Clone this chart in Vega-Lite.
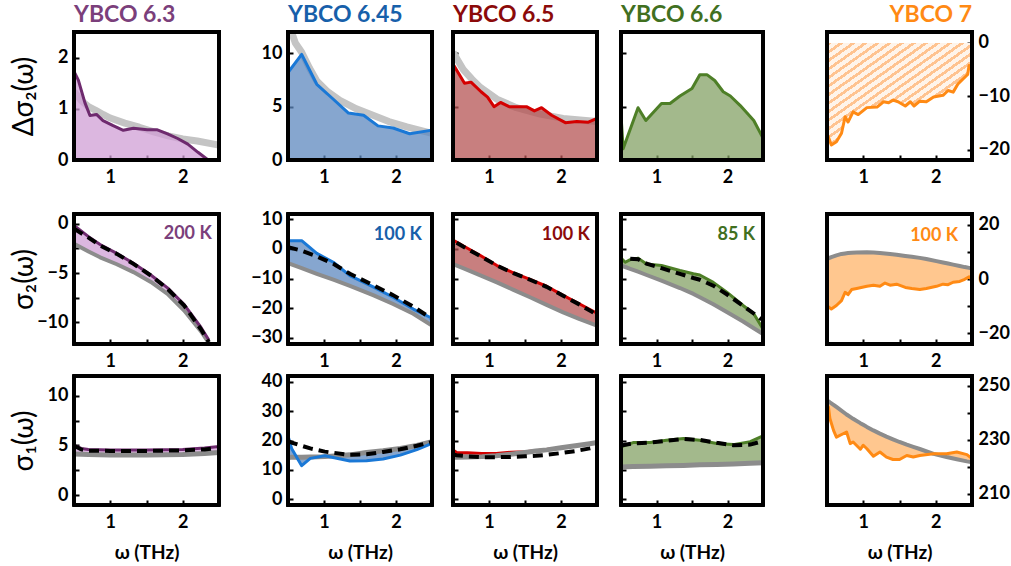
{
"$schema": "https://vega.github.io/schema/vega-lite/v6.json",
"padding": {"left": 10, "top": 3, "right": 0, "bottom": 0},
"columns": 5, "spacing": 0, "bounds": "flush",
"datasets": {
"r1c1": [{"x":0.5,"d":1.73},{"x":0.56,"d":1.56},{"x":0.65,"d":1.12},{"x":0.72,"d":0.87},{"x":0.81,"d":0.89},{"x":0.9,"d":0.77},{"x":1.04,"d":0.67},{"x":1.18,"d":0.58},{"x":1.32,"d":0.62},{"x":1.51,"d":0.59},{"x":1.65,"d":0.59},{"x":1.79,"d":0.51},{"x":1.93,"d":0.42},{"x":2.07,"d":0.31},{"x":2.21,"d":0.15},{"x":2.35,"d":0},
 {"x":0.5,"f":1.34},{"x":0.6,"f":1.16},{"x":0.7,"f":1.04},{"x":0.8,"f":0.97},{"x":0.9,"f":0.89},{"x":1.0,"f":0.82},{"x":1.2,"f":0.72},{"x":1.4,"f":0.64},{"x":1.6,"f":0.55},{"x":1.8,"f":0.47},{"x":2.0,"f":0.41},{"x":2.2,"f":0.37},{"x":2.5,"f":0.29}],
"r1c2": [{"x":0.5,"d":8.2},{"x":0.69,"d":9.9},{"x":0.9,"d":7.1},{"x":1.08,"d":6.0},{"x":1.34,"d":4.4},{"x":1.55,"d":4.2},{"x":1.75,"d":3.2},{"x":1.96,"d":3.0},{"x":2.19,"d":2.46},{"x":2.5,"d":2.8},
 {"x":0.5,"f":13.0},{"x":0.6,"f":11.0},{"x":0.69,"f":10.1},{"x":0.8,"f":8.6},{"x":0.9,"f":7.4},{"x":1.05,"f":6.4},{"x":1.22,"f":5.6},{"x":1.45,"f":4.8},{"x":1.68,"f":4.2},{"x":1.9,"f":3.6},{"x":2.15,"f":3.1},{"x":2.5,"f":2.5}],
"r1c3": [{"x":0.5,"d":9.0},{"x":0.66,"d":7.2},{"x":0.75,"d":7.3},{"x":0.89,"d":6.4},{"x":0.98,"d":5.9},{"x":1.07,"d":5.0},{"x":1.16,"d":5.4},{"x":1.28,"d":5.0},{"x":1.42,"d":5.0},{"x":1.52,"d":5.0},{"x":1.63,"d":4.6},{"x":1.73,"d":4.9},{"x":1.87,"d":4.2},{"x":2.06,"d":3.5},{"x":2.22,"d":3.6},{"x":2.38,"d":3.55},{"x":2.5,"d":3.9},
 {"x":0.5,"f":10.1},{"x":0.64,"f":8.5},{"x":0.76,"f":7.6},{"x":0.88,"f":6.8},{"x":1.11,"f":5.7},{"x":1.38,"f":4.9},{"x":1.71,"f":4.3},{"x":2.03,"f":3.9},{"x":2.5,"f":3.6}],
"r1c4": [{"x":0.5,"d":4.2},{"x":0.53,"d":1.06},{"x":0.74,"d":4.9},{"x":0.85,"d":3.7},{"x":1.07,"d":5.3},{"x":1.19,"d":5.3},{"x":1.33,"d":6.0},{"x":1.5,"d":6.7},{"x":1.61,"d":8.0},{"x":1.71,"d":8.0},{"x":1.82,"d":7.45},{"x":1.94,"d":6.4},{"x":2.04,"d":6.0},{"x":2.18,"d":5.1},{"x":2.37,"d":3.7},{"x":2.5,"d":2.06}],
"r1c5": [{"x":0.5,"d":-16.9},{"x":0.56,"d":-19.1},{"x":0.63,"d":-18.5},{"x":0.7,"d":-16.9},{"x":0.75,"d":-13.8},{"x":0.79,"d":-14.8},{"x":0.86,"d":-12.9},{"x":0.93,"d":-13.4},{"x":1.05,"d":-12.1},{"x":1.19,"d":-12.0},{"x":1.28,"d":-11.0},{"x":1.35,"d":-11.2},{"x":1.41,"d":-10.7},{"x":1.48,"d":-11.0},{"x":1.58,"d":-11.8},{"x":1.65,"d":-11.0},{"x":1.7,"d":-11.8},{"x":1.78,"d":-10.9},{"x":1.87,"d":-11.0},{"x":1.97,"d":-10.1},{"x":2.1,"d":-9.8},{"x":2.17,"d":-8.9},{"x":2.24,"d":-9.2},{"x":2.31,"d":-7.6},{"x":2.38,"d":-6.7},{"x":2.44,"d":-5.9},{"x":2.46,"d":-4.2},{"x":2.5,"d":-5.0}],
"r2c1": [{"x":0.5,"d":-0.15,"f":-2.03,"m":-0.5},{"x":0.7,"d":-1.3,"f":-2.8,"m":-1.4},{"x":0.86,"d":-2.1,"f":-3.4,"m":-2.2},{"x":1.09,"d":-3.0,"f":-4.1,"m":-3.05},{"x":1.32,"d":-4.0,"f":-4.9,"m":-4.06},{"x":1.56,"d":-5.2,"f":-5.9,"m":-5.25},{"x":1.79,"d":-6.5,"f":-7.1,"m":-6.6},{"x":2.02,"d":-8.2,"f":-8.8,"m":-8.3},{"x":2.25,"d":-10.5,"f":-10.9,"m":-10.7},{"x":2.36,"d":-11.8,"f":-12.1,"m":-12.0}],
"r2c2": [{"x":0.5,"d":2.8,"f":-4.8,"m":0.6},{"x":0.69,"d":2.8,"f":-6.5,"m":-0.6},{"x":0.9,"d":-1.5,"f":-8.4,"m":-2.5},{"x":1.13,"d":-4.5,"f":-10.4,"m":-5.0},{"x":1.36,"d":-9.0,"f":-12.5,"m":-8.4},{"x":1.69,"d":-12.9,"f":-15.7,"m":-12.3},{"x":1.96,"d":-16.3,"f":-18.6,"m":-15.6},{"x":2.24,"d":-20.3,"f":-21.9,"m":-19.5},{"x":2.5,"d":-23.4,"f":-25.9,"m":-23.6}],
"r2c3": [{"x":0.5,"d":3.0,"f":-5.1},{"x":0.55,"m":2.1},{"x":0.64,"d":1.1,"f":-6.5,"m":0.8},{"x":0.88,"d":-2.2,"f":-8.9,"m":-2.4},{"x":1.11,"d":-5.6,"f":-11.3,"m":-5.6},{"x":1.34,"d":-8.1,"f":-13.8,"m":-8.2},{"x":1.57,"d":-10.3,"f":-16.3,"m":-10.4},{"x":1.8,"d":-12.6,"f":-18.9,"m":-12.8},{"x":2.03,"d":-15.7,"f":-21.4,"m":-15.8},{"x":2.26,"d":-18.6,"f":-23.7,"m":-18.8},{"x":2.45,"m":-21.5},{"x":2.5,"d":-21.7,"f":-25.9}],
"r2c4": [{"x":0.5,"d":-3.1,"f":-5.6},{"x":0.56,"d":-4.5,"f":-6.1},{"x":0.63,"d":-3.6,"f":-6.7,"m":-3.3},{"x":0.74,"d":-3.1,"f":-7.7,"m":-3.5},{"x":0.86,"d":-5.1,"f":-8.8,"m":-5.0},{"x":1.07,"d":-5.6,"f":-10.7,"m":-6.5},{"x":1.33,"d":-7.3,"f":-13.2,"m":-8.4},{"x":1.52,"d":-8.4,"f":-15.2,"m":-9.8},{"x":1.61,"d":-8.8,"f":-16.3,"m":-10.4},{"x":1.8,"d":-11.3,"f":-18.7,"m":-12.4},{"x":1.99,"d":-14.6,"f":-21.3,"m":-15.3},{"x":2.22,"d":-19.1,"f":-24.5,"m":-19.2},{"x":2.37,"d":-21.9,"f":-26.8,"m":-21.8},{"x":2.48,"m":-23.8},{"x":2.5,"d":-27.0,"f":-28.7}],
"r2c5": [{"x":0.5,"d":-9.8,"f":7.4},{"x":0.56,"d":-11.1,"f":8.1},{"x":0.63,"d":-9.8,"f":8.7},{"x":0.7,"d":-8.0,"f":9.25},{"x":0.75,"d":-4.9,"f":9.45},{"x":0.79,"d":-5.8,"f":9.6},{"x":0.84,"d":-3.9,"f":9.7},{"x":0.91,"d":-3.5,"f":9.8},{"x":1.05,"d":-2.7,"f":9.9},{"x":1.14,"d":-2.3,"f":9.8},{"x":1.23,"d":-2.7,"f":9.6},{"x":1.3,"d":-1.5,"f":9.4},{"x":1.37,"d":-2.3,"f":9.2},{"x":1.46,"d":-1.9,"f":8.95},{"x":1.58,"d":-3.1,"f":8.5},{"x":1.67,"d":-3.5,"f":8.2},{"x":1.78,"d":-3.9,"f":7.8},{"x":1.87,"d":-3.5,"f":7.4},{"x":2.01,"d":-2.7,"f":6.6},{"x":2.1,"d":-1.9,"f":6.1},{"x":2.17,"d":-2.1,"f":5.7},{"x":2.24,"d":-1.2,"f":5.3},{"x":2.33,"d":-0.9,"f":4.8},{"x":2.4,"d":-0.1,"f":4.4},{"x":2.46,"d":0.8,"f":4.1},{"x":2.5,"d":-0.2,"f":3.9}],
"r3c1": [{"x":0.5,"d":5.0,"f":4.13,"m":4.97},{"x":0.6,"d":4.7,"f":4.12,"m":4.6},{"x":0.7,"d":4.6,"f":4.1,"m":4.47},{"x":1.0,"d":4.55,"f":4.05,"m":4.45},{"x":1.5,"d":4.55,"f":4.05,"m":4.45},{"x":2.0,"d":4.6,"f":4.1,"m":4.5},{"x":2.3,"d":4.75,"f":4.2,"m":4.6},{"x":2.5,"d":4.9,"f":4.3,"m":4.75}],
"r3c2": [{"x":0.5,"d":21.6,"f":14.2,"m":19.8},{"x":0.55,"d":17.3,"f":14.25,"m":19.3},{"x":0.69,"d":11.4,"f":14.3,"m":18.2},{"x":0.81,"d":13.9,"f":14.4,"m":17.3},{"x":1.01,"d":14.8,"f":14.5,"m":16.2},{"x":1.36,"d":13.0,"f":15.1,"m":15.1},{"x":1.59,"d":13.1,"f":15.9,"m":15.3},{"x":1.82,"d":13.7,"f":16.5,"m":16.1},{"x":2.06,"d":15.0,"f":17.3,"m":17.0},{"x":2.29,"d":16.9,"f":18.3,"m":18.2},{"x":2.5,"d":19.0,"f":19.6,"m":19.5}],
"r3c3": [{"x":0.5,"d":16.8,"f":14.3,"m":15.2},{"x":0.55,"d":15.9,"f":14.3,"m":15.0},{"x":0.7,"d":15.8,"f":14.35,"m":14.6},{"x":0.9,"d":15.6,"f":14.5,"m":14.3},{"x":1.1,"d":15.6,"f":14.8,"m":14.3},{"x":1.3,"d":16.0,"f":15.3,"m":14.4},{"x":1.5,"d":16.2,"f":15.9,"m":14.6},{"x":1.65,"d":16.5,"f":16.4,"m":14.8},{"x":1.8,"d":16.9,"f":16.8,"m":15.1},{"x":2.0,"d":17.5,"f":17.5,"m":15.7},{"x":2.2,"d":18.2,"f":18.2,"m":16.4},{"x":2.4,"d":18.9,"f":18.9,"m":17.3},{"x":2.5,"d":19.3,"f":19.3,"m":17.9}],
"r3c4": [{"x":0.5,"d":17.8,"f":11.0,"m":18.3},{"x":0.67,"d":19.3,"f":11.1,"m":19.0},{"x":0.91,"d":19.3,"f":11.2,"m":19.3},{"x":1.14,"d":20.1,"f":11.4,"m":19.9},{"x":1.38,"d":20.7,"f":11.5,"m":20.5},{"x":1.61,"d":20.1,"f":11.7,"m":20.2},{"x":1.85,"d":19.0,"f":11.8,"m":19.2},{"x":2.08,"d":18.6,"f":12.0,"m":18.4},{"x":2.32,"d":19.6,"f":12.2,"m":18.6},{"x":2.5,"d":21.6,"f":12.4,"m":19.8}],
"r3c5": [{"x":0.5,"d":243.0,"f":244.7},{"x":0.52,"d":242.2,"f":244.3},{"x":0.54,"d":237.9,"f":243.9},{"x":0.59,"d":233.5,"f":243.0},{"x":0.63,"d":231.0,"f":242.2},{"x":0.77,"d":232.9,"f":239.4},{"x":0.82,"d":228.6,"f":238.5},{"x":0.86,"d":229.2,"f":237.8},{"x":0.96,"d":226.5,"f":236.2},{"x":1.0,"d":228.0,"f":235.6},{"x":1.05,"d":226.7,"f":234.8},{"x":1.14,"d":223.9,"f":233.5},{"x":1.23,"d":225.5,"f":232.3},{"x":1.32,"d":223.6,"f":231.2},{"x":1.41,"d":222.7,"f":230.2},{"x":1.5,"d":222.7,"f":229.2},{"x":1.6,"d":224.2,"f":228.2},{"x":1.69,"d":223.6,"f":227.4},{"x":1.78,"d":224.2,"f":226.6},{"x":1.97,"d":224.8,"f":224.8},{"x":2.15,"d":224.8,"f":223.6},{"x":2.29,"d":225.5,"f":222.8},{"x":2.43,"d":224.5,"f":222.0},{"x":2.5,"d":223.0,"f":221.7}]
},
"concat": [
{"width":214,"height":128,"title":{"text":"YBCO 6.3","color":"#7b3f7b"},"data":{"name":"r1c1"},
 "encoding":{"x":{"field":"x","type":"quantitative","scale":{"domain":[0.5,2.5],"range":[0,145],"nice":false},"axis":{"values":[1,1.5,2],"labelExpr":"datum.value % 1 == 0 ? format(datum.value, 'd') : ''","title":null}}},
 "layer":[
  {"transform":[{"filter":"isValid(datum.f)"}],"mark":{"type":"line","color":"#c4c4c4","strokeWidth":7,"clip":true,"strokeJoin":"round"},"encoding":{"y":{"field":"f","type":"quantitative","scale":{"domain":[0,2.5],"nice":false},"axis":{"values":[0,0.5,1,1.5,2],"labelExpr":"datum.value % 1 == 0 ? format(datum.value, 'd') : ''","title":"Δσ₂(ω)","titleFontSize":28,"titleFontWeight":"normal","titlePadding":6,"minExtent":30,"maxExtent":30}}}},
  {"transform":[{"filter":"isValid(datum.d)"}],"mark":{"type":"area","color":"#d09fd6","opacity":0.75},"encoding":{"y":{"field":"d","type":"quantitative"},"y2":{"datum":0}}},
  {"transform":[{"filter":"isValid(datum.d)"}],"mark":{"type":"line","color":"#6e2a6e","strokeWidth":3,"clip":true,"strokeJoin":"round"},"encoding":{"y":{"field":"d","type":"quantitative"}}},
  {"mark":{"type":"rect","filled":false,"stroke":"black","strokeWidth":2.8},"encoding":{"x":{"datum":0.5},"x2":{"datum":2.5},"y":{"datum":0},"y2":{"datum":2.5}}}
 ]},
{"width":165,"height":128,"title":{"text":"YBCO 6.45","color":"#1760aa"},"data":{"name":"r1c2"},
 "encoding":{"x":{"field":"x","type":"quantitative","scale":{"domain":[0.5,2.5],"range":[0,144],"nice":false},"axis":{"values":[1,1.5,2],"labelExpr":"datum.value % 1 == 0 ? format(datum.value, 'd') : ''","title":null}}},
 "layer":[
  {"transform":[{"filter":"isValid(datum.f)"}],"mark":{"type":"line","color":"#c4c4c4","strokeWidth":7,"clip":true,"strokeJoin":"round"},"encoding":{"y":{"field":"f","type":"quantitative","scale":{"domain":[0,12],"nice":false},"axis":{"values":[0,2.5,5,7.5,10],"labelExpr":"datum.value % 5 == 0 ? format(datum.value, 'd') : ''","title":null}}}},
  {"transform":[{"filter":"isValid(datum.d)"}],"mark":{"type":"area","color":"#5e88bf","opacity":0.75},"encoding":{"y":{"field":"d","type":"quantitative"},"y2":{"datum":0}}},
  {"transform":[{"filter":"isValid(datum.d)"}],"mark":{"type":"line","color":"#1a78d6","strokeWidth":3,"clip":true,"strokeJoin":"round"},"encoding":{"y":{"field":"d","type":"quantitative"}}},
  {"mark":{"type":"rect","filled":false,"stroke":"black","strokeWidth":2.8},"encoding":{"x":{"datum":0.5},"x2":{"datum":2.5},"y":{"datum":0},"y2":{"datum":12}}}
 ]},
{"width":168,"height":128,"title":{"text":"YBCO 6.5","color":"#8b0a0a"},"data":{"name":"r1c3"},
 "encoding":{"x":{"field":"x","type":"quantitative","scale":{"domain":[0.5,2.5],"range":[0,144],"nice":false},"axis":{"values":[1,1.5,2],"labelExpr":"datum.value % 1 == 0 ? format(datum.value, 'd') : ''","title":null}}},
 "layer":[
  {"transform":[{"filter":"isValid(datum.f)"}],"mark":{"type":"line","color":"#c4c4c4","strokeWidth":7,"clip":true,"strokeJoin":"round"},"encoding":{"y":{"field":"f","type":"quantitative","scale":{"domain":[0,12],"nice":false},"axis":{"values":[0,2.5,5,7.5,10],"labels":false,"title":null}}}},
  {"transform":[{"filter":"isValid(datum.d)"}],"mark":{"type":"area","color":"#b65454","opacity":0.75},"encoding":{"y":{"field":"d","type":"quantitative"},"y2":{"datum":0}}},
  {"transform":[{"filter":"isValid(datum.d)"}],"mark":{"type":"line","color":"#d40000","strokeWidth":3,"clip":true,"strokeJoin":"round"},"encoding":{"y":{"field":"d","type":"quantitative"}}},
  {"mark":{"type":"rect","filled":false,"stroke":"black","strokeWidth":2.8},"encoding":{"x":{"datum":0.5},"x2":{"datum":2.5},"y":{"datum":0},"y2":{"datum":12}}}
 ]},
{"width":206,"height":128,"title":{"text":"YBCO 6.6","color":"#41701f"},"data":{"name":"r1c4"},
 "encoding":{"x":{"field":"x","type":"quantitative","scale":{"domain":[0.5,2.5],"range":[0,142],"nice":false},"axis":{"values":[1,1.5,2],"labelExpr":"datum.value % 1 == 0 ? format(datum.value, 'd') : ''","title":null}}},
 "layer":[
  {"mark":{"type":"area","color":"#84a266","opacity":0.75},"encoding":{"y":{"field":"d","type":"quantitative","scale":{"domain":[0,12],"nice":false},"axis":{"values":[0,2.5,5,7.5,10],"labels":false,"title":null}},"y2":{"datum":0}}},
  {"mark":{"type":"line","color":"#4e7f27","strokeWidth":3,"clip":true,"strokeJoin":"round"},"encoding":{"y":{"field":"d","type":"quantitative"}}},
  {"mark":{"type":"rect","filled":false,"stroke":"black","strokeWidth":2.8},"encoding":{"x":{"datum":0.5},"x2":{"datum":2.5},"y":{"datum":0},"y2":{"datum":12}}}
 ]},
{"width":145,"height":128,"title":{"text":"YBCO 7","color":"#ff8a14","anchor":"end"},"data":{"name":"r1c5"},
 "encoding":{"x":{"field":"x","type":"quantitative","scale":{"domain":[0.5,2.5],"range":[0,145],"nice":false},"axis":{"values":[1,1.5,2],"labelExpr":"datum.value % 1 == 0 ? format(datum.value, 'd') : ''","title":null}}},
 "layer":[
  {"mark":{"type":"area","fill":{"gradient":"linear","x1":0,"y1":0,"x2":1,"y2":1,"stops":[
   {"offset":0,"color":"#ffc390"},{"offset":0.0167,"color":"#ffc390"},{"offset":0.0167,"color":"#fff4ea"},{"offset":0.0417,"color":"#fff4ea"},
   {"offset":0.0417,"color":"#ffc390"},{"offset":0.0583,"color":"#ffc390"},{"offset":0.0583,"color":"#fff4ea"},{"offset":0.0833,"color":"#fff4ea"},
   {"offset":0.0833,"color":"#ffc390"},{"offset":0.1,"color":"#ffc390"},{"offset":0.1,"color":"#fff4ea"},{"offset":0.125,"color":"#fff4ea"},
   {"offset":0.125,"color":"#ffc390"},{"offset":0.1417,"color":"#ffc390"},{"offset":0.1417,"color":"#fff4ea"},{"offset":0.1667,"color":"#fff4ea"},
   {"offset":0.1667,"color":"#ffc390"},{"offset":0.1833,"color":"#ffc390"},{"offset":0.1833,"color":"#fff4ea"},{"offset":0.2083,"color":"#fff4ea"},
   {"offset":0.2083,"color":"#ffc390"},{"offset":0.225,"color":"#ffc390"},{"offset":0.225,"color":"#fff4ea"},{"offset":0.25,"color":"#fff4ea"},
   {"offset":0.25,"color":"#ffc390"},{"offset":0.2667,"color":"#ffc390"},{"offset":0.2667,"color":"#fff4ea"},{"offset":0.2917,"color":"#fff4ea"},
   {"offset":0.2917,"color":"#ffc390"},{"offset":0.3083,"color":"#ffc390"},{"offset":0.3083,"color":"#fff4ea"},{"offset":0.3333,"color":"#fff4ea"},
   {"offset":0.3333,"color":"#ffc390"},{"offset":0.35,"color":"#ffc390"},{"offset":0.35,"color":"#fff4ea"},{"offset":0.375,"color":"#fff4ea"},
   {"offset":0.375,"color":"#ffc390"},{"offset":0.3917,"color":"#ffc390"},{"offset":0.3917,"color":"#fff4ea"},{"offset":0.4167,"color":"#fff4ea"},
   {"offset":0.4167,"color":"#ffc390"},{"offset":0.4333,"color":"#ffc390"},{"offset":0.4333,"color":"#fff4ea"},{"offset":0.4583,"color":"#fff4ea"},
   {"offset":0.4583,"color":"#ffc390"},{"offset":0.475,"color":"#ffc390"},{"offset":0.475,"color":"#fff4ea"},{"offset":0.5,"color":"#fff4ea"},
   {"offset":0.5,"color":"#ffc390"},{"offset":0.5167,"color":"#ffc390"},{"offset":0.5167,"color":"#fff4ea"},{"offset":0.5417,"color":"#fff4ea"},
   {"offset":0.5417,"color":"#ffc390"},{"offset":0.5583,"color":"#ffc390"},{"offset":0.5583,"color":"#fff4ea"},{"offset":0.5833,"color":"#fff4ea"},
   {"offset":0.5833,"color":"#ffc390"},{"offset":0.6,"color":"#ffc390"},{"offset":0.6,"color":"#fff4ea"},{"offset":0.625,"color":"#fff4ea"},
   {"offset":0.625,"color":"#ffc390"},{"offset":0.6417,"color":"#ffc390"},{"offset":0.6417,"color":"#fff4ea"},{"offset":0.6667,"color":"#fff4ea"},
   {"offset":0.6667,"color":"#ffc390"},{"offset":0.6833,"color":"#ffc390"},{"offset":0.6833,"color":"#fff4ea"},{"offset":0.7083,"color":"#fff4ea"},
   {"offset":0.7083,"color":"#ffc390"},{"offset":0.725,"color":"#ffc390"},{"offset":0.725,"color":"#fff4ea"},{"offset":0.75,"color":"#fff4ea"},
   {"offset":0.75,"color":"#ffc390"},{"offset":0.7667,"color":"#ffc390"},{"offset":0.7667,"color":"#fff4ea"},{"offset":0.7917,"color":"#fff4ea"},
   {"offset":0.7917,"color":"#ffc390"},{"offset":0.8083,"color":"#ffc390"},{"offset":0.8083,"color":"#fff4ea"},{"offset":0.8333,"color":"#fff4ea"},
   {"offset":0.8333,"color":"#ffc390"},{"offset":0.85,"color":"#ffc390"},{"offset":0.85,"color":"#fff4ea"},{"offset":0.875,"color":"#fff4ea"},
   {"offset":0.875,"color":"#ffc390"},{"offset":0.8917,"color":"#ffc390"},{"offset":0.8917,"color":"#fff4ea"},{"offset":0.9167,"color":"#fff4ea"},
   {"offset":0.9167,"color":"#ffc390"},{"offset":0.9333,"color":"#ffc390"},{"offset":0.9333,"color":"#fff4ea"},{"offset":0.9583,"color":"#fff4ea"},
   {"offset":0.9583,"color":"#ffc390"},{"offset":0.975,"color":"#ffc390"},{"offset":0.975,"color":"#fff4ea"},{"offset":1,"color":"#fff4ea"}]}},
   "encoding":{"y":{"field":"d","type":"quantitative","scale":{"domain":[-21.9,2.05],"nice":false},"axis":{"orient":"right","values":[-20,-15,-10,-5,0],"labelExpr":"datum.value % 10 == 0 ? format(datum.value, 'd') : ''","title":null}},"y2":{"datum":0}}},
  {"mark":{"type":"line","color":"#ff8a14","strokeWidth":3,"clip":true,"strokeJoin":"round"},"encoding":{"y":{"field":"d","type":"quantitative"}}},
  {"mark":{"type":"rect","filled":false,"stroke":"black","strokeWidth":2.8},"encoding":{"x":{"datum":0.5},"x2":{"datum":2.5},"y":{"datum":-21.9},"y2":{"datum":2.05}}}
 ]},
{"width":214,"height":184,"data":{"name":"r2c1"},
 "encoding":{"x":{"field":"x","type":"quantitative","scale":{"domain":[0.5,2.5],"range":[0,145],"nice":false},"axis":{"values":[1,1.5,2],"labelExpr":"datum.value % 1 == 0 ? format(datum.value, 'd') : ''","title":null}}},
 "layer":[
  {"mark":{"type":"area","color":"#d09fd6","opacity":0.75},"encoding":{"y":{"field":"d","type":"quantitative","scale":{"domain":[-12.2,1],"range":[184,54],"nice":false},"axis":{"values":[-10,-7.5,-5,-2.5,0],"labelExpr":"datum.value % 5 == 0 ? format(datum.value, 'd') : ''","title":"σ₂(ω)","titleFontSize":28,"titleFontWeight":"normal","titlePadding":6,"minExtent":30,"maxExtent":30}},"y2":{"field":"f"}}},
  {"mark":{"type":"line","color":"#8c8c8c","strokeWidth":4,"clip":true,"strokeJoin":"round"},"encoding":{"y":{"field":"f","type":"quantitative"}}},
  {"mark":{"type":"line","color":"#6e2a6e","strokeWidth":3,"clip":true,"strokeJoin":"round"},"encoding":{"y":{"field":"d","type":"quantitative"}}},
  {"mark":{"type":"line","color":"black","strokeWidth":4,"strokeDash":[10,6],"clip":true},"encoding":{"y":{"field":"m","type":"quantitative"}}},
  {"mark":{"type":"text","align":"right","baseline":"middle","fontSize":18,"fontWeight":"bold","color":"#7b3f7b"},"encoding":{"x":{"datum":2.4},"y":{"datum":-1},"text":{"value":"200 K"},"opacity":{"condition":{"test":"datum.x == 0.5","value":1},"value":0}}},
  {"mark":{"type":"rect","filled":false,"stroke":"black","strokeWidth":2.8},"encoding":{"x":{"datum":0.5},"x2":{"datum":2.5},"y":{"datum":-12.2},"y2":{"datum":1}}}
 ]},
{"width":165,"height":184,"data":{"name":"r2c2"},
 "encoding":{"x":{"field":"x","type":"quantitative","scale":{"domain":[0.5,2.5],"range":[0,144],"nice":false},"axis":{"values":[1,1.5,2],"labelExpr":"datum.value % 1 == 0 ? format(datum.value, 'd') : ''","title":null}}},
 "layer":[
  {"mark":{"type":"area","color":"#5e88bf","opacity":0.75},"encoding":{"y":{"field":"d","type":"quantitative","scale":{"domain":[-32.1,11.8],"range":[184,54],"nice":false},"axis":{"values":[-30,-25,-20,-15,-10,-5,0,5,10],"labelExpr":"datum.value % 10 == 0 ? format(datum.value, 'd') : ''","title":null}},"y2":{"field":"f"}}},
  {"mark":{"type":"line","color":"#8c8c8c","strokeWidth":4,"clip":true,"strokeJoin":"round"},"encoding":{"y":{"field":"f","type":"quantitative"}}},
  {"mark":{"type":"line","color":"#1a78d6","strokeWidth":3,"clip":true,"strokeJoin":"round"},"encoding":{"y":{"field":"d","type":"quantitative"}}},
  {"mark":{"type":"line","color":"black","strokeWidth":4,"strokeDash":[10,6],"clip":true},"encoding":{"y":{"field":"m","type":"quantitative"}}},
  {"mark":{"type":"text","align":"right","baseline":"middle","fontSize":18,"fontWeight":"bold","color":"#1760aa"},"encoding":{"x":{"datum":2.36},"y":{"datum":4.7},"text":{"value":"100 K"},"opacity":{"condition":{"test":"datum.x == 0.5","value":1},"value":0}}},
  {"mark":{"type":"rect","filled":false,"stroke":"black","strokeWidth":2.8},"encoding":{"x":{"datum":0.5},"x2":{"datum":2.5},"y":{"datum":-32.1},"y2":{"datum":11.8}}}
 ]},
{"width":168,"height":184,"data":{"name":"r2c3"},
 "encoding":{"x":{"field":"x","type":"quantitative","scale":{"domain":[0.5,2.5],"range":[0,144],"nice":false},"axis":{"values":[1,1.5,2],"labelExpr":"datum.value % 1 == 0 ? format(datum.value, 'd') : ''","title":null}}},
 "layer":[
  {"transform":[{"filter":"isValid(datum.d) && isValid(datum.f)"}],"mark":{"type":"area","color":"#b65454","opacity":0.75},"encoding":{"y":{"field":"d","type":"quantitative","scale":{"domain":[-32.1,11.8],"range":[184,54],"nice":false},"axis":{"values":[-30,-25,-20,-15,-10,-5,0,5,10],"labels":false,"title":null}},"y2":{"field":"f"}}},
  {"transform":[{"filter":"isValid(datum.f)"}],"mark":{"type":"line","color":"#8c8c8c","strokeWidth":4,"clip":true,"strokeJoin":"round"},"encoding":{"y":{"field":"f","type":"quantitative"}}},
  {"transform":[{"filter":"isValid(datum.d)"}],"mark":{"type":"line","color":"#d40000","strokeWidth":3,"clip":true,"strokeJoin":"round"},"encoding":{"y":{"field":"d","type":"quantitative"}}},
  {"transform":[{"filter":"isValid(datum.m)"}],"mark":{"type":"line","color":"black","strokeWidth":4,"strokeDash":[10,6],"clip":true},"encoding":{"y":{"field":"m","type":"quantitative"}}},
  {"mark":{"type":"text","align":"right","baseline":"middle","fontSize":18,"fontWeight":"bold","color":"#8b0a0a"},"encoding":{"x":{"datum":2.4},"y":{"datum":4.7},"text":{"value":"100 K"},"opacity":{"condition":{"test":"datum.x == 0.5","value":1},"value":0}}},
  {"mark":{"type":"rect","filled":false,"stroke":"black","strokeWidth":2.8},"encoding":{"x":{"datum":0.5},"x2":{"datum":2.5},"y":{"datum":-32.1},"y2":{"datum":11.8}}}
 ]},
{"width":206,"height":184,"data":{"name":"r2c4"},
 "encoding":{"x":{"field":"x","type":"quantitative","scale":{"domain":[0.5,2.5],"range":[0,142],"nice":false},"axis":{"values":[1,1.5,2],"labelExpr":"datum.value % 1 == 0 ? format(datum.value, 'd') : ''","title":null}}},
 "layer":[
  {"transform":[{"filter":"isValid(datum.d) && isValid(datum.f)"}],"mark":{"type":"area","color":"#84a266","opacity":0.75},"encoding":{"y":{"field":"d","type":"quantitative","scale":{"domain":[-32.1,11.8],"range":[184,54],"nice":false},"axis":{"values":[-30,-25,-20,-15,-10,-5,0,5,10],"labels":false,"title":null}},"y2":{"field":"f"}}},
  {"transform":[{"filter":"isValid(datum.f)"}],"mark":{"type":"line","color":"#8c8c8c","strokeWidth":4,"clip":true,"strokeJoin":"round"},"encoding":{"y":{"field":"f","type":"quantitative"}}},
  {"transform":[{"filter":"isValid(datum.d)"}],"mark":{"type":"line","color":"#4e7f27","strokeWidth":3,"clip":true,"strokeJoin":"round"},"encoding":{"y":{"field":"d","type":"quantitative"}}},
  {"transform":[{"filter":"isValid(datum.m)"}],"mark":{"type":"line","color":"black","strokeWidth":4,"strokeDash":[10,6],"clip":true},"encoding":{"y":{"field":"m","type":"quantitative"}}},
  {"mark":{"type":"text","align":"right","baseline":"middle","fontSize":18,"fontWeight":"bold","color":"#41701f"},"encoding":{"x":{"datum":2.39},"y":{"datum":4.7},"text":{"value":"85 K"},"opacity":{"condition":{"test":"datum.x == 0.5","value":1},"value":0}}},
  {"mark":{"type":"rect","filled":false,"stroke":"black","strokeWidth":2.8},"encoding":{"x":{"datum":0.5},"x2":{"datum":2.5},"y":{"datum":-32.1},"y2":{"datum":11.8}}}
 ]},
{"width":145,"height":184,"data":{"name":"r2c5"},
 "encoding":{"x":{"field":"x","type":"quantitative","scale":{"domain":[0.5,2.5],"range":[0,145],"nice":false},"axis":{"values":[1,1.5,2],"labelExpr":"datum.value % 1 == 0 ? format(datum.value, 'd') : ''","title":null}}},
 "layer":[
  {"mark":{"type":"area","color":"#ffb46a","opacity":0.75},"encoding":{"y":{"field":"d","type":"quantitative","scale":{"domain":[-24,24],"range":[184,54],"nice":false},"axis":{"orient":"right","values":[-20,-10,0,10,20],"labelExpr":"datum.value % 20 == 0 ? format(datum.value, 'd') : ''","title":null}},"y2":{"field":"f"}}},
  {"mark":{"type":"line","color":"#8c8c8c","strokeWidth":4,"clip":true,"strokeJoin":"round"},"encoding":{"y":{"field":"f","type":"quantitative"}}},
  {"mark":{"type":"line","color":"#ff8a14","strokeWidth":3,"clip":true,"strokeJoin":"round"},"encoding":{"y":{"field":"d","type":"quantitative"}}},
  {"mark":{"type":"text","align":"right","baseline":"middle","fontSize":18,"fontWeight":"bold","color":"#ff8a14"},"encoding":{"x":{"datum":2.31},"y":{"datum":16},"text":{"value":"100 K"},"opacity":{"condition":{"test":"datum.x == 0.5","value":1},"value":0}}},
  {"mark":{"type":"rect","filled":false,"stroke":"black","strokeWidth":2.8},"encoding":{"x":{"datum":0.5},"x2":{"datum":2.5},"y":{"datum":-24},"y2":{"datum":24}}}
 ]},
{"width":214,"height":161,"data":{"name":"r3c1"},
 "encoding":{"x":{"field":"x","type":"quantitative","scale":{"domain":[0.5,2.5],"range":[0,145],"nice":false},"axis":{"values":[1,1.5,2],"labelExpr":"datum.value % 1 == 0 ? format(datum.value, 'd') : ''","title":"ω (THz)"}}},
 "layer":[
  {"mark":{"type":"area","color":"#d09fd6","opacity":0.75},"encoding":{"y":{"field":"d","type":"quantitative","scale":{"domain":[-1,12],"range":[161,32],"nice":false},"axis":{"values":[0,2.5,5,7.5,10],"labelExpr":"datum.value % 5 == 0 ? format(datum.value, 'd') : ''","title":"σ₁(ω)","titleFontSize":28,"titleFontWeight":"normal","titlePadding":6,"minExtent":30,"maxExtent":30}},"y2":{"field":"f"}}},
  {"mark":{"type":"line","color":"#8c8c8c","strokeWidth":5,"clip":true,"strokeJoin":"round"},"encoding":{"y":{"field":"f","type":"quantitative"}}},
  {"mark":{"type":"line","color":"#6e2a6e","strokeWidth":3,"clip":true,"strokeJoin":"round"},"encoding":{"y":{"field":"d","type":"quantitative"}}},
  {"mark":{"type":"line","color":"black","strokeWidth":4,"strokeDash":[10,6],"clip":true},"encoding":{"y":{"field":"m","type":"quantitative"}}},
  {"mark":{"type":"rect","filled":false,"stroke":"black","strokeWidth":2.8},"encoding":{"x":{"datum":0.5},"x2":{"datum":2.5},"y":{"datum":-1},"y2":{"datum":12}}}
 ]},
{"width":165,"height":161,"data":{"name":"r3c2"},
 "encoding":{"x":{"field":"x","type":"quantitative","scale":{"domain":[0.5,2.5],"range":[0,144],"nice":false},"axis":{"values":[1,1.5,2],"labelExpr":"datum.value % 1 == 0 ? format(datum.value, 'd') : ''","title":"ω (THz)"}}},
 "layer":[
  {"mark":{"type":"area","color":"#5e88bf","opacity":0.75},"encoding":{"y":{"field":"d","type":"quantitative","scale":{"domain":[-2,42],"range":[161,32],"nice":false},"axis":{"values":[0,5,10,15,20,25,30,35,40],"labelExpr":"datum.value % 10 == 0 ? format(datum.value, 'd') : ''","title":null}},"y2":{"field":"f"}}},
  {"mark":{"type":"line","color":"#8c8c8c","strokeWidth":5,"clip":true,"strokeJoin":"round"},"encoding":{"y":{"field":"f","type":"quantitative"}}},
  {"mark":{"type":"line","color":"#1a78d6","strokeWidth":3,"clip":true,"strokeJoin":"round"},"encoding":{"y":{"field":"d","type":"quantitative"}}},
  {"mark":{"type":"line","color":"black","strokeWidth":4,"strokeDash":[10,6],"clip":true},"encoding":{"y":{"field":"m","type":"quantitative"}}},
  {"mark":{"type":"rect","filled":false,"stroke":"black","strokeWidth":2.8},"encoding":{"x":{"datum":0.5},"x2":{"datum":2.5},"y":{"datum":-2},"y2":{"datum":42}}}
 ]},
{"width":168,"height":161,"data":{"name":"r3c3"},
 "encoding":{"x":{"field":"x","type":"quantitative","scale":{"domain":[0.5,2.5],"range":[0,144],"nice":false},"axis":{"values":[1,1.5,2],"labelExpr":"datum.value % 1 == 0 ? format(datum.value, 'd') : ''","title":"ω (THz)"}}},
 "layer":[
  {"mark":{"type":"area","color":"#b65454","opacity":0.75},"encoding":{"y":{"field":"d","type":"quantitative","scale":{"domain":[-2,42],"range":[161,32],"nice":false},"axis":{"values":[0,5,10,15,20,25,30,35,40],"labels":false,"title":null}},"y2":{"field":"f"}}},
  {"mark":{"type":"line","color":"#d40000","strokeWidth":3,"clip":true,"strokeJoin":"round"},"encoding":{"y":{"field":"d","type":"quantitative"}}},
  {"mark":{"type":"line","color":"#8c8c8c","strokeWidth":5,"clip":true,"strokeJoin":"round"},"encoding":{"y":{"field":"f","type":"quantitative"}}},
  {"mark":{"type":"line","color":"black","strokeWidth":4,"strokeDash":[10,6],"clip":true},"encoding":{"y":{"field":"m","type":"quantitative"}}},
  {"mark":{"type":"rect","filled":false,"stroke":"black","strokeWidth":2.8},"encoding":{"x":{"datum":0.5},"x2":{"datum":2.5},"y":{"datum":-2},"y2":{"datum":42}}}
 ]},
{"width":206,"height":161,"data":{"name":"r3c4"},
 "encoding":{"x":{"field":"x","type":"quantitative","scale":{"domain":[0.5,2.5],"range":[0,142],"nice":false},"axis":{"values":[1,1.5,2],"labelExpr":"datum.value % 1 == 0 ? format(datum.value, 'd') : ''","title":"ω (THz)"}}},
 "layer":[
  {"mark":{"type":"area","color":"#84a266","opacity":0.75},"encoding":{"y":{"field":"d","type":"quantitative","scale":{"domain":[-2,42],"range":[161,32],"nice":false},"axis":{"values":[0,5,10,15,20,25,30,35,40],"labels":false,"title":null}},"y2":{"field":"f"}}},
  {"mark":{"type":"line","color":"#8c8c8c","strokeWidth":5,"clip":true,"strokeJoin":"round"},"encoding":{"y":{"field":"f","type":"quantitative"}}},
  {"mark":{"type":"line","color":"#4e7f27","strokeWidth":3,"clip":true,"strokeJoin":"round"},"encoding":{"y":{"field":"d","type":"quantitative"}}},
  {"mark":{"type":"line","color":"black","strokeWidth":4,"strokeDash":[10,6],"clip":true},"encoding":{"y":{"field":"m","type":"quantitative"}}},
  {"mark":{"type":"rect","filled":false,"stroke":"black","strokeWidth":2.8},"encoding":{"x":{"datum":0.5},"x2":{"datum":2.5},"y":{"datum":-2},"y2":{"datum":42}}}
 ]},
{"width":145,"height":161,"data":{"name":"r3c5"},
 "encoding":{"x":{"field":"x","type":"quantitative","scale":{"domain":[0.5,2.5],"range":[0,145],"nice":false},"axis":{"values":[1,1.5,2],"labelExpr":"datum.value % 1 == 0 ? format(datum.value, 'd') : ''","title":"ω (THz)"}}},
 "layer":[
  {"mark":{"type":"area","color":"#ffb46a","opacity":0.75},"encoding":{"y":{"field":"d","type":"quantitative","scale":{"domain":[205.8,253.7],"range":[161,32],"nice":false},"axis":{"orient":"right","values":[210,220,230,240,250],"labelExpr":"datum.value % 20 == 10 ? format(datum.value, 'd') : ''","title":null}},"y2":{"field":"f"}}},
  {"mark":{"type":"line","color":"#8c8c8c","strokeWidth":4,"clip":true,"strokeJoin":"round"},"encoding":{"y":{"field":"f","type":"quantitative"}}},
  {"mark":{"type":"line","color":"#ff8a14","strokeWidth":3,"clip":true,"strokeJoin":"round"},"encoding":{"y":{"field":"d","type":"quantitative"}}},
  {"mark":{"type":"rect","filled":false,"stroke":"black","strokeWidth":2.8},"encoding":{"x":{"datum":0.5},"x2":{"datum":2.5},"y":{"datum":205.8},"y2":{"datum":253.7}}}
 ]}
],
"config": {
 "background": "white",
 "font": "Lato",
 "view": {"stroke": null},
 "title": {"anchor": "start", "frame": "group", "fontSize": 23, "fontWeight": "bold", "offset": 0, "font": "Lato"},
 "axis": {"grid": false, "domain": false, "tickSize": -5, "tickWidth": 2, "tickColor": "black", "labelFont": "Lato", "labelFontSize": 18, "labelFontWeight": "bold", "labelColor": "black", "labelOverlap": false, "labelFlush": false, "titleFont": "Lato", "titleColor": "black", "titleFontSize": 19, "titleFontWeight": "bold"},
 "axisX": {"labelPadding": 13, "titlePadding": 12},
 "axisY": {"labelPadding": 11},
 "text": {"font": "Lato"}
}
}
